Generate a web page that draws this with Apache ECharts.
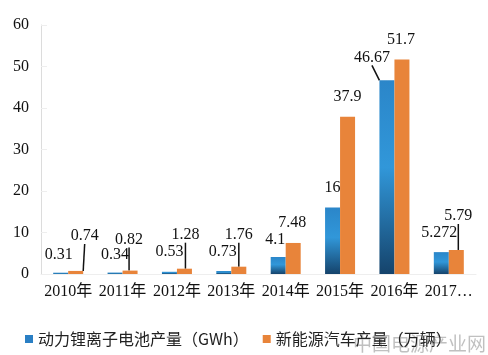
<!DOCTYPE html>
<html>
<head>
<meta charset="utf-8">
<script src="https://cdn.jsdelivr.net/npm/echarts@6/dist/echarts.min.js"></script>
<style>html,body{margin:0;padding:0;background:#fff;}#c{width:488px;height:355px;}</style>
</head>
<body>
<div id="c"></div>
<script>
var categories = ['2010年','2011年','2012年','2013年','2014年','2015年','2016年','2017…'];
var batteryGWh = [0.31, 0.34, 0.53, 0.73, 4.1, 16, 46.67, 5.272];
var nevOutput = [0.74, 0.82, 1.28, 1.76, 7.48, 37.9, 51.7, 5.79];
var seriesNames = ['动力锂离子电池产量（GWh）', '新能源汽车产量（万辆）'];
var yTicks = { min: 0, max: 60, interval: 10 };

// label placement tweaks (style only)
var blueLabelShift = [[-2,-5],[0,-5],[0,-7],[-1,-6],[-3,-4],[0,-7],[-15,-10],[-2,-6]];
var orangeLabelShift = [[9,-22],[-1,-18],[1,-21],[0,-19],[-1,-7],[0,-7],[-1,-7],[2,-21]];
var blueLeader = [false,false,false,false,false,false,true,false];
var orangeLeader = [true,true,true,true,false,false,false,true];

var serif = '"Liberation Serif","Times New Roman","Noto Sans CJK SC",serif';

function buildData(values, leader) {
  return values.map(function (v, i) {
    return { value: v, labelLine: { show: leader[i], lineStyle: { color: '#111', width: 1.5 } } };
  });
}

var chart = echarts.init(document.getElementById('c'));
chart.setOption({
  backgroundColor: '#fff',
  animation: false,
  grid: { left: 41, right: 12, top: 25, bottom: 81 },
  legend: {
    left: 20, bottom: 3,
    itemWidth: 8, itemHeight: 8, itemGap: 14,
    icon: 'rect',
    textStyle: { fontSize: 16, color: '#222', fontFamily: '"Noto Sans CJK SC",sans-serif' },
    data: [
      { name: seriesNames[0], itemStyle: { color: '#2a7fc4' } },
      { name: seriesNames[1], itemStyle: { color: '#e8843a' } }
    ]
  },
  xAxis: {
    type: 'category',
    data: categories,
    axisLine: { show: true, lineStyle: { color: '#eeeeee' } },
    axisTick: { show: false },
    axisLabel: { fontSize: 16, color: '#111', fontFamily: serif, margin: 10, interval: 0 }
  },
  yAxis: {
    type: 'value',
    min: yTicks.min, max: yTicks.max, interval: yTicks.interval,
    axisLine: { show: true, lineStyle: { color: '#dcdcdc' } },
    axisTick: { show: true, inside: true, length: 6, lineStyle: { color: '#eeeeee' } },
    splitLine: { show: false },
    axisLabel: { fontSize: 16, color: '#111', fontFamily: serif, margin: 12 }
  },
  series: [
    {
      name: seriesNames[0],
      type: 'bar',
      barWidth: 15,
      barGap: '0%',
      data: buildData(batteryGWh, blueLeader),
      itemStyle: {
        color: new echarts.graphic.LinearGradient(0, 0, 0, 1, [
          { offset: 0, color: '#2b86c9' },
          { offset: 0.45, color: '#3197d9' },
          { offset: 1, color: '#15436b' }
        ])
      },
      label: { show: true, position: 'top', fontSize: 16, color: '#111', fontFamily: serif },
      labelLayout: function (p) {
        var s = blueLabelShift[p.dataIndex];
        return { dx: s[0], dy: s[1] };
      }
    },
    {
      name: seriesNames[1],
      type: 'bar',
      barWidth: 15,
      barGap: '0%',
      data: buildData(nevOutput, orangeLeader),
      itemStyle: { color: '#e8843a' },
      label: { show: true, position: 'top', fontSize: 16, color: '#111', fontFamily: serif },
      labelLayout: function (p) {
        var s = orangeLabelShift[p.dataIndex];
        return { dx: s[0], dy: s[1] };
      }
    }
  ],
  graphic: [
    {
      type: 'text', right: 2, bottom: 2,
      style: { text: '中国电源产业网', fontSize: 19, fill: 'rgba(140,140,140,0.55)', fontFamily: '"Noto Sans CJK SC",sans-serif' }
    }
  ]
});
</script>
</body>
</html>
